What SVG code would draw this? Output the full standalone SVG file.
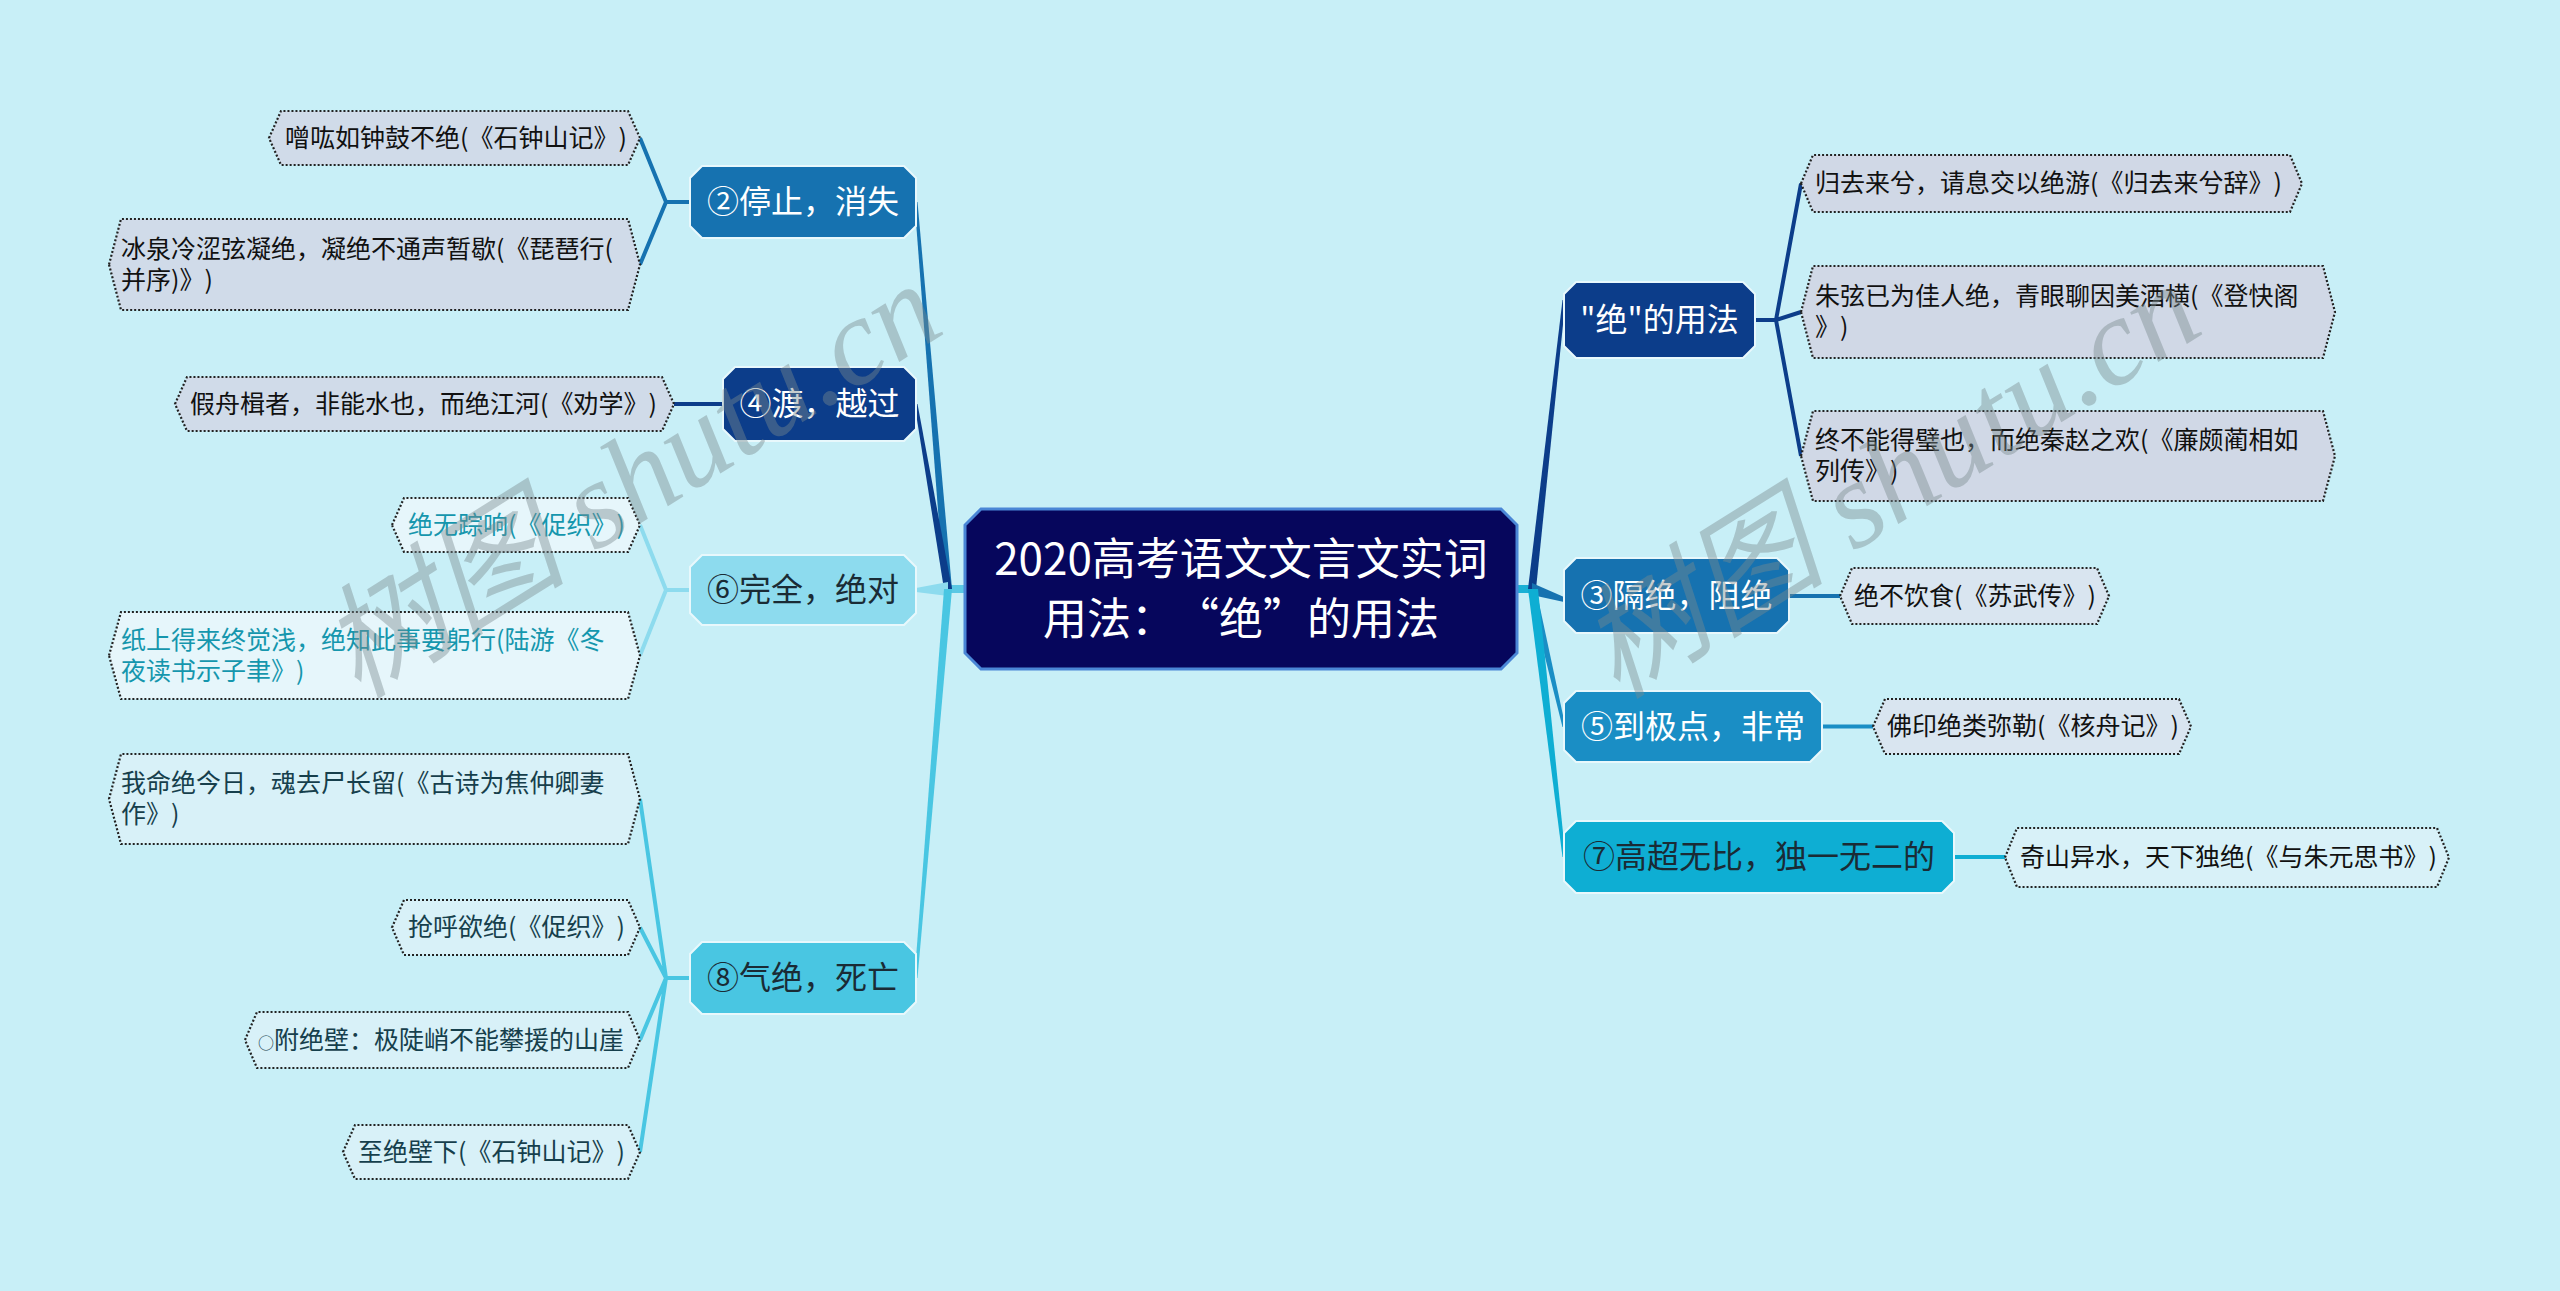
<svg xmlns="http://www.w3.org/2000/svg" width="2560" height="1291" viewBox="0 0 2560 1291">
<style>
text{text-spacing-trim:space-all}
.nt{font-family:"Noto Sans CJK SC","Noto Sans",sans-serif;font-size:32px;text-anchor:middle}
.rt{font-family:"Noto Sans CJK SC","Noto Sans",sans-serif;font-size:44px;text-anchor:middle;fill:#ffffff}
.fw{font-feature-settings:"fwid"}
.lt{font-family:"Noto Sans CJK SC","Noto Sans",sans-serif;font-size:25px}
.node{stroke:#e8f8fc;stroke-width:2}
.leaf{stroke:#222;stroke-width:2.2;stroke-dasharray:2 2}
.ln{fill:none;stroke-width:4}
.wm{font-family:"Liberation Serif","Noto Sans CJK SC",serif;font-style:italic;font-size:124px;fill:#7a8a8e;opacity:0.42}
</style>
<rect width="2560" height="1291" fill="#c8eff7"/>

<g id="connectors">
  <rect x="944" y="585" width="22" height="8" fill="#5ac8e4"/>
  <rect x="1516" y="585" width="18" height="8" fill="#1ab0d5"/>
  <polygon points="944,589 952,589 917.5,202 914.5,202" fill="#1672b0"/>
  <polygon points="944,589 952,589 917.5,404 914.5,404" fill="#0c3d8a"/>
  <polygon points="948,582 948,596 916,592 916,588" fill="#8ddbee"/>
  <polygon points="944,589 952,589 917.5,978 914.5,978" fill="#49c6e2"/>
  <polygon points="1528,589 1536,589 1565.5,300 1562.5,300" fill="#0c3d8a"/>
  <polygon points="1532,583 1532,595 1564,602 1564,597" fill="#1672b0"/>
  <polygon points="1528,589 1536,589 1565.5,727 1562.5,727" fill="#1a8ec5"/>
  <polygon points="1528,589 1538,589 1565.5,857 1562.5,857" fill="#0eaed3"/>
  <path class="ln" stroke="#1672b0" d="M690,202 H666 M666,202 L640,138 M666,202 L640,264.5"/>
  <path class="ln" stroke="#0c3d8a" d="M723,404 H674"/>
  <path class="ln" stroke="#8ddbee" d="M690,590 H666 M666,590 L640,525 M666,590 L640,655.5"/>
  <path class="ln" stroke="#49c6e2" d="M690,978 H666 M666,978 L640,799 M666,978 L640,927.5 M666,978 L640,1040 M666,978 L640,1152"/>
  <path class="ln" stroke="#0c3d8a" d="M1755,320 H1776 M1776,320 L1801,183.5 M1776,320 L1801,312 M1776,320 L1801,456"/>
  <path class="ln" stroke="#1672b0" d="M1789,596 H1840"/>
  <path class="ln" stroke="#1a8ec5" d="M1822,726.5 H1873"/>
  <path class="ln" stroke="#0eaed3" d="M1954,857 H2005"/>
</g>

<g id="root">
  <polygon points="981,509 1501,509 1517,525 1517,653 1501,669 981,669 965,653 965,525" fill="#06065c" stroke="#4a86d6" stroke-width="3"/>
  <text class="rt" x="1241" y="575">2020高考语文文言文实词</text>
  <text class="rt" x="1241" y="635">用法：<tspan class="fw">“</tspan>绝<tspan class="fw">”</tspan>的用法</text>
</g>

<g id="n2">
  <polygon class="node" points="702,166 904,166 916,178 916,226 904,238 702,238 690,226 690,178" fill="#1672b0"/>
  <text class="nt" x="803" y="213" fill="#ffffff">②停止，消失</text>
</g>
<g id="n4">
  <polygon class="node" points="735,367 904,367 916,379 916,429 904,441 735,441 723,429 723,379" fill="#0c3d8a"/>
  <text class="nt" x="819.5" y="415" fill="#ffffff">④渡，越过</text>
</g>
<g id="n6">
  <polygon class="node" points="702,555 904,555 916,567 916,613 904,625 702,625 690,613 690,567" fill="#8ddbee"/>
  <text class="nt" x="803" y="601" fill="#1a2b35">⑥完全，绝对</text>
</g>
<g id="n8">
  <polygon class="node" points="702,942 904,942 916,954 916,1002 904,1014 702,1014 690,1002 690,954" fill="#49c6e2"/>
  <text class="nt" x="803" y="989" fill="#1a2b35">⑧气绝，死亡</text>
</g>
<g id="nj">
  <polygon class="node" points="1576,282 1743,282 1755,294 1755,346 1743,358 1576,358 1564,346 1564,294" fill="#0c3d8a"/>
  <text class="nt" x="1659.5" y="331" fill="#ffffff">"绝"的用法</text>
</g>
<g id="n3">
  <polygon class="node" points="1576,558 1777,558 1789,570 1789,621 1777,633 1576,633 1564,621 1564,570" fill="#1672b0"/>
  <text class="nt" x="1676.5" y="607" fill="#ffffff">③隔绝，阻绝</text>
</g>
<g id="n5">
  <polygon class="node" points="1576,691 1810,691 1822,703 1822,750 1810,762 1576,762 1564,750 1564,703" fill="#1a8ec5"/>
  <text class="nt" x="1693" y="738" fill="#ffffff">⑤到极点，非常</text>
</g>
<g id="n7">
  <polygon class="node" points="1576,821 1942,821 1954,833 1954,881 1942,893 1576,893 1564,881 1564,833" fill="#0eaed3"/>
  <text class="nt" x="1759" y="868" fill="#1a2b35">⑦高超无比，独一无二的</text>
</g>

<g id="l1">
  <polygon class="leaf" points="269,138 281,111 628,111 640,138 628,165 281,165" fill="#d0dbe9"/>
  <text class="lt" x="285" y="147" fill="#111">噌吰如钟鼓不绝(《石钟山记》)</text>
</g>
<g id="l2">
  <polygon class="leaf" points="109,264.5 121,219 628,219 640,264.5 628,310 121,310" fill="#d0dbe9"/>
  <text class="lt" x="121" y="258" fill="#111">冰泉冷涩弦凝绝，凝绝不通声暂歇(《琵琶行(</text>
  <text class="lt" x="121" y="289" fill="#111">并序)》)</text>
</g>
<g id="l3">
  <polygon class="leaf" points="175,404 187,377 662,377 674,404 662,431 187,431" fill="#d0dbe9"/>
  <text class="lt" x="190" y="413" fill="#111">假舟楫者，非能水也，而绝江河(《劝学》)</text>
</g>
<g id="l4">
  <polygon class="leaf" points="392,525 404,498 628,498 640,525 628,552 404,552" fill="#e6f6fb"/>
  <text class="lt" x="408" y="534" fill="#1596ad">绝无踪响(《促织》)</text>
</g>
<g id="l5">
  <polygon class="leaf" points="109,655.5 121,612 628,612 640,655.5 628,699 121,699" fill="#e6f6fb"/>
  <text class="lt" x="121" y="649" fill="#1596ad">纸上得来终觉浅，绝知此事要躬行(陆游《冬</text>
  <text class="lt" x="121" y="680" fill="#1596ad">夜读书示子聿》)</text>
</g>
<g id="l6">
  <polygon class="leaf" points="109,799 121,754 628,754 640,799 628,844 121,844" fill="#d8f1f8"/>
  <text class="lt" x="121" y="792" fill="#163f4c">我命绝今日，魂去尸长留(《古诗为焦仲卿妻</text>
  <text class="lt" x="121" y="823" fill="#163f4c">作》)</text>
</g>
<g id="l7">
  <polygon class="leaf" points="392,927.5 404,900 628,900 640,927.5 628,955 404,955" fill="#d8f1f8"/>
  <text class="lt" x="408" y="936" fill="#163f4c">抢呼欲绝(《促织》)</text>
</g>
<g id="l8">
  <polygon class="leaf" points="245,1040 257,1012 628,1012 640,1040 628,1068 257,1068" fill="#d8f1f8"/>
  <text class="lt" x="258" y="1049" fill="#163f4c"><tspan font-size="16">○</tspan>附绝壁：极陡峭不能攀援的山崖</text>
</g>
<g id="l9">
  <polygon class="leaf" points="343,1152 355,1125 628,1125 640,1152 628,1179 355,1179" fill="#d8f1f8"/>
  <text class="lt" x="358" y="1161" fill="#163f4c">至绝壁下(《石钟山记》)</text>
</g>

<g id="r1">
  <polygon class="leaf" points="1801,183.5 1813,155 2290,155 2302,183.5 2290,212 1813,212" fill="#d0d8e6"/>
  <text class="lt" x="1815" y="192" fill="#111">归去来兮，请息交以绝游(《归去来兮辞》)</text>
</g>
<g id="r2">
  <polygon class="leaf" points="1801,312 1813,266 2323,266 2335,312 2323,358 1813,358" fill="#d0d8e6"/>
  <text class="lt" x="1815" y="305" fill="#111">朱弦已为佳人绝，青眼聊因美酒横(《登快阁</text>
  <text class="lt" x="1815" y="336" fill="#111">》)</text>
</g>
<g id="r3">
  <polygon class="leaf" points="1801,456 1813,411 2323,411 2335,456 2323,501 1813,501" fill="#d0d8e6"/>
  <text class="lt" x="1815" y="449" fill="#111">终不能得璧也，而绝秦赵之欢(《廉颇蔺相如</text>
  <text class="lt" x="1815" y="480" fill="#111">列传》)</text>
</g>
<g id="r4">
  <polygon class="leaf" points="1840,596 1852,568 2097,568 2109,596 2097,624 1852,624" fill="#d9e5f0"/>
  <text class="lt" x="1854" y="605" fill="#111">绝不饮食(《苏武传》)</text>
</g>
<g id="r5">
  <polygon class="leaf" points="1873,726.5 1885,699 2179,699 2191,726.5 2179,754 1885,754" fill="#d9e5f0"/>
  <text class="lt" x="1887" y="735" fill="#111">佛印绝类弥勒(《核舟记》)</text>
</g>
<g id="r6">
  <polygon class="leaf" points="2005,857.5 2017,828 2437,828 2449,857.5 2437,887 2017,887" fill="#d8f1f8"/>
  <text class="lt" x="2020" y="866" fill="#111">奇山异水，天下独绝(《与朱元思书》)</text>
</g>

<g id="watermark">
  <text class="wm" transform="translate(358,700) rotate(-32)">树图 shutu.cn</text>
  <text class="wm" transform="translate(1617,700) rotate(-32)">树图 shutu.cn</text>
</g>
</svg>
